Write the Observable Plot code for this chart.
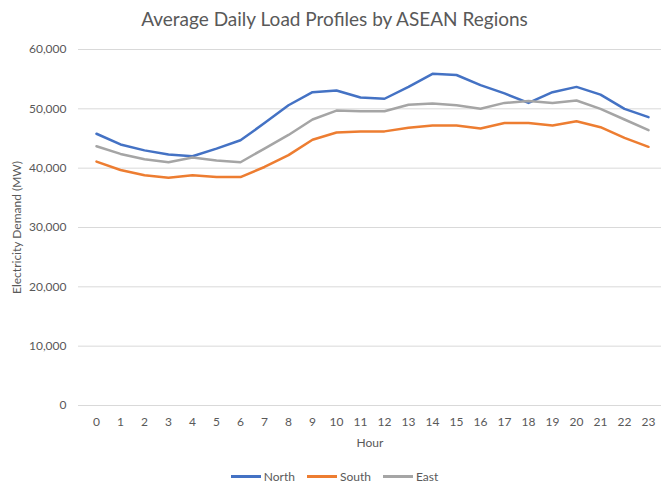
<!DOCTYPE html>
<html>
<head>
<meta charset="utf-8">
<script src="https://cdn.jsdelivr.net/npm/d3@7"></script>
<script src="https://cdn.jsdelivr.net/npm/@observablehq/plot@0.6"></script>
<style>
  body { margin: 0; background: #fff; font-family: Lato, "Open Sans", sans-serif; color: #595959; }
  #wrap { width: 661px; height: 486px; position: relative; overflow: hidden; }
  #title { height: 38px; line-height: 38px; text-align: center; font-size: 19px; color: #595959; padding-left: 8px; }
  #legend { display: flex; justify-content: center; align-items: center; font-size: 12px; color: #595959; height: 36px; padding-top: 8px; padding-left: 8px; }
  .item { display: flex; align-items: center; margin: 0 6px; }
  .sw { width: 30px; height: 3px; margin-right: 3px; }
</style>
</head>
<body>
<div id="wrap">
  <div id="title">Average Daily Load Profiles by ASEAN Regions</div>
  <div id="chart"></div>
  <div id="legend"></div>
</div>
<script>
const hours = d3.range(0, 24);
const seriesNames = ["North", "South", "East"];
const seriesColors = ["#4472C4", "#ED7D31", "#A5A5A5"];
const north = [45800, 44000, 43000, 42300, 42000, 43300, 44700, 47600, 50600, 52800, 53100, 51900,
               51700, 53700, 55900, 55700, 54000, 52600, 51000, 52800, 53700, 52400, 50000, 48600];
const south = [41100, 39700, 38800, 38400, 38800, 38500, 38500, 40200, 42200, 44800, 46000, 46200,
               46200, 46800, 47200, 47200, 46700, 47600, 47600, 47200, 47900, 46900, 45100, 43600];
const east  = [43700, 42400, 41500, 41000, 41800, 41300, 41000, 43300, 45600, 48200, 49700, 49600,
               49600, 50700, 50900, 50600, 50000, 51000, 51300, 51000, 51400, 50000, 48200, 46400];
const yTicks = [0, 10000, 20000, 30000, 40000, 50000, 60000];

const valuesBySeries = [north, south, east];
const data = [];
seriesNames.forEach((s, i) => hours.forEach((h, j) => data.push({series: s, hour: h, value: valuesBySeries[i][j]})));

const chart = Plot.plot({
  width: 661,
  height: 412,
  marginLeft: 78,
  marginRight: 0,
  marginTop: 11,
  marginBottom: 45,
  style: { fontFamily: "Lato, 'Open Sans', sans-serif", fontSize: "12px", color: "#595959", background: "transparent" },
  x: { type: "point", domain: hours, range: [90, 653], padding: 0 },
  y: { domain: [0, 60000] },
  color: { domain: seriesNames, range: seriesColors },
  marks: [
    Plot.ruleY(yTicks, { stroke: "#d9d9d9", strokeWidth: 1 }),
    Plot.axisY({ ticks: yTicks, tickFormat: d3.format(","), tickSize: 0, tickPadding: 12, fontSize: 12,
                 label: "Electricity Demand (MW)", labelAnchor: "center", labelArrow: "none", labelOffset: 66 }),
    Plot.axisX({ tickSize: 0, tickPadding: 12, fontSize: 12, label: "Hour", labelAnchor: "center", labelArrow: "none", labelOffset: 41 }),
    Plot.lineY(data, { x: "hour", y: "value", stroke: "series", strokeWidth: 2.5, strokeLinejoin: "round" })
  ]
});
document.getElementById("chart").appendChild(chart);

const legend = document.getElementById("legend");
seriesNames.forEach((s, i) => {
  const it = document.createElement("div");
  it.className = "item";
  it.innerHTML = `<span class="sw" style="background:${seriesColors[i]}"></span><span>${s}</span>`;
  legend.appendChild(it);
});
</script>
</body>
</html>
